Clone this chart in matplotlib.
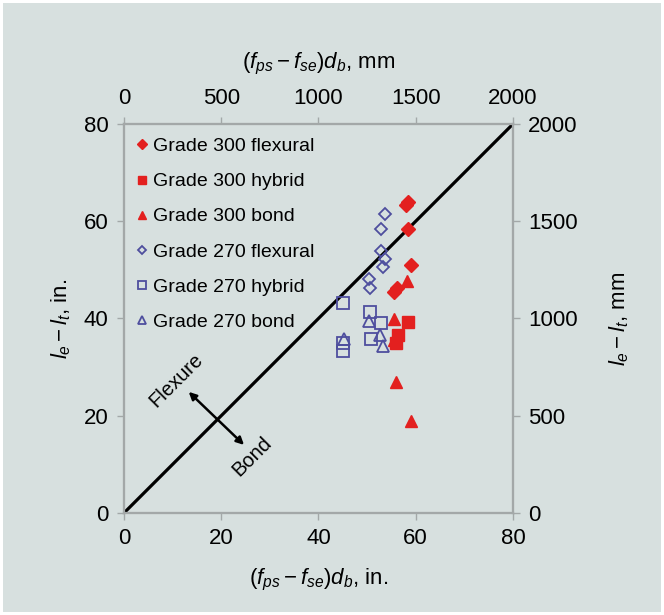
import matplotlib
matplotlib.use("Agg")
import matplotlib.pyplot as plt
from matplotlib.patches import Rectangle

plt.rcParams['font.family'] = ['Liberation Sans', 'DejaVu Sans']
plt.rcParams['mathtext.fontset'] = 'custom'
plt.rcParams['mathtext.rm'] = 'Liberation Sans'
plt.rcParams['mathtext.it'] = 'Liberation Sans:italic'
plt.rcParams['mathtext.bf'] = 'Liberation Sans:bold'

# Data (inches)
g300_flex_x = [58.0, 58.5, 58.5, 59.0, 55.5, 56.1]
g300_flex_y = [63.3, 63.9, 58.5, 51.0, 45.5, 46.2]
g300_hyb_x = [58.5, 56.4, 55.9]
g300_hyb_y = [39.3, 36.6, 34.9]
g300_bond_x = [58.1, 55.5, 55.6, 55.9, 59.0]
g300_bond_y = [47.7, 39.9, 35.5, 27.0, 19.0]
g270_flex_x = [53.7, 52.9, 52.9, 53.7, 53.2, 50.4, 50.6]
g270_flex_y = [61.4, 58.5, 53.9, 52.2, 50.5, 48.1, 46.2]
g270_hyb_x = [45.1, 50.5, 52.9, 50.9, 45.1, 45.0]
g270_hyb_y = [43.2, 41.4, 39.0, 35.8, 34.9, 33.4]
g270_bond_x = [50.4, 45.2, 52.6, 53.3]
g270_bond_y = [39.5, 35.7, 36.5, 34.3]
line_x = [0, 80]
line_y = [0, 80]
in_ticks = [0, 20, 40, 60, 80]
mm_ticks = [0, 500, 1000, 1500, 2000]

BG = '#d7e0df'
RED = '#e3201f'
BLUE = '#4e4e9e'
SPINE = '#a3a8a8'

fig = plt.figure(figsize=(6.64, 6.15), dpi=100, facecolor='white')
fig.patches.append(Rectangle((0.005, 0.005), 0.99, 0.99, transform=fig.transFigure,
                             facecolor=BG, edgecolor='none', zorder=-10))
ax = fig.add_axes([0.1867, 0.1659, 0.5859, 0.6325])
ax.set_facecolor(BG)

ax.plot(line_x, line_y, color='black', lw=2.3, zorder=2)

ax.plot(g300_flex_x, g300_flex_y, 'D', color=RED, ms=7, ls='none', label='Grade 300 flexural', zorder=3)
ax.plot(g300_hyb_x, g300_hyb_y, 's', color=RED, ms=8, ls='none', label='Grade 300 hybrid', zorder=3)
ax.plot(g300_bond_x, g300_bond_y, '^', color=RED, ms=8, ls='none', label='Grade 300 bond', zorder=3)
ax.plot(g270_flex_x, g270_flex_y, 'D', mfc='none', mec=BLUE, mew=1.3, ms=6.5, ls='none', label='Grade 270 flexural', zorder=3)
ax.plot(g270_hyb_x, g270_hyb_y, 's', mfc='none', mec=BLUE, mew=1.3, ms=8, ls='none', label='Grade 270 hybrid', zorder=3)
ax.plot(g270_bond_x, g270_bond_y, '^', mfc='none', mec=BLUE, mew=1.3, ms=8, ls='none', label='Grade 270 bond', zorder=3)

ax.set_xlim(0, 80)
ax.set_ylim(0, 80)
ax.set_xticks(in_ticks)
ax.set_yticks(in_ticks)

leg = ax.legend(loc='upper left', bbox_to_anchor=(-0.005, 1.005), frameon=False, fontsize=14,
                handlelength=0.5, handletextpad=0.3, labelspacing=0.9, markerscale=0.7,
                borderaxespad=0.4)

ax.annotate('', xy=(12.9, 25.3), xytext=(25.1, 13.6),
            arrowprops=dict(arrowstyle='<|-|>', color='black', lw=1.8, mutation_scale=11))
ax.text(10.8, 27.2, 'Flexure', rotation=45, ha='center', va='center', fontsize=14.5)
ax.text(26.3, 11.7, 'Bond', rotation=45, ha='center', va='center', fontsize=14.5)

for a in [ax]:
    for s in a.spines.values():
        s.set_color(SPINE)
        s.set_linewidth(1.5)
ax.tick_params(direction='out', length=5, width=1, color=SPINE, labelsize=16, pad=6)

ax.set_xlabel(r'$(f_{ps} - f_{se})d_b$, in.', fontsize=16, labelpad=13)
ax.set_ylabel(r'$l_e - l_t$, in.', fontsize=16, labelpad=8)

axt = ax.twiny()
axt.set_xlim(0, 2000)
axt.set_xticks(mm_ticks)
axt.tick_params(direction='out', length=5, width=1, color=SPINE, labelsize=16, pad=6)
axt.set_xlabel(r'$(f_{ps} - f_{se})d_b$, mm', fontsize=16, labelpad=14)

axr = ax.twinx()
axr.set_ylim(0, 2000)
axr.set_yticks(mm_ticks)
axr.tick_params(direction='out', length=5, width=1, color=SPINE, labelsize=16, pad=6)
axr.set_ylabel(r'$l_e - l_t$, mm', fontsize=16, labelpad=21)
for a in [axt, axr]:
    for s in a.spines.values():
        s.set_color(SPINE)
        s.set_linewidth(1.5)

fig.savefig('out.png', dpi=100, facecolor=fig.get_facecolor())
